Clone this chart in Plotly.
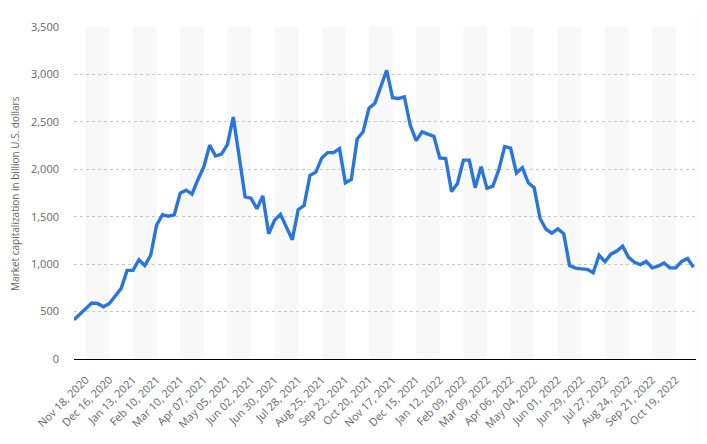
import pandas as pd
import plotly.graph_objects as go

# weekly market capitalization, billion U.S. dollars
start_date = "2020-11-04"
market_cap = [
    413, 470, 530, 591, 585, 550, 585, 660, 745, 934,
    935, 1047, 985, 1094, 1412, 1522, 1505, 1520, 1748, 1780,
    1738, 1890, 2025, 2255, 2140, 2160, 2260, 2550, 2130, 1710,
    1695, 1584, 1720, 1320, 1464, 1525, 1390, 1258, 1574, 1618,
    1936, 1970, 2120, 2176, 2176, 2217, 1858, 1892, 2320, 2395,
    2644, 2696, 2870, 3044, 2754, 2747, 2764, 2463, 2302, 2395,
    2371, 2347, 2120, 2114, 1765, 1850, 2097, 2097, 1806, 2028,
    1799, 1823, 1994, 2240, 2223, 1960, 2018, 1858, 1806, 1481,
    1368, 1327, 1371, 1320, 985, 958, 950, 945, 909, 1094,
    1026, 1105, 1139, 1190, 1071, 1019, 996, 1029, 961, 978,
    1012, 961, 961, 1029, 1060, 968,
]
weeks = pd.date_range(start_date, periods=len(market_cap), freq="7D")

# labelled every fourth week, starting Nov 18, 2020
tick_dates = pd.date_range("2020-11-18", "2022-10-19", freq="28D")
tick_labels = [d.strftime("%b %d, %Y") for d in tick_dates]

y_ticks = [0, 500, 1000, 1500, 2000, 2500, 3000, 3500]

fig = go.Figure()
fig.add_trace(go.Scatter(
    x=weeks, y=market_cap, mode="lines",
    line=dict(color="#2876dd", width=3.4),
    hoverinfo="x+y",
))

# alternating light bands between label positions
shapes = []
for k in range(0, len(tick_dates) - 1, 2):
    shapes.append(dict(
        type="rect", xref="x", yref="paper",
        x0=tick_dates[k], x1=tick_dates[k + 1], y0=0, y1=1,
        fillcolor="#f8f8f8", line=dict(width=0), layer="below",
    ))
# faint shade on the right edge of the page
for j in range(9):
    shapes.append(dict(
        type="rect", xref="paper", yref="paper",
        x0=1.0 - 0.006 + j * 0.0028, x1=1.0 - 0.006 + (j + 1) * 0.0028 + 0.0005,
        y0=-0.3, y1=1.04,
        fillcolor="#888888", opacity=0.006 + j * 0.005, line=dict(width=0), layer="above",
    ))

# the page body adds an 8px offset, so the figure is 8px smaller
fig.update_layout(
    width=699, height=436,
    margin=dict(l=66, r=11, t=11, b=85),
    paper_bgcolor="white", plot_bgcolor="white",
    showlegend=False,
    font=dict(family="Open Sans, DejaVu Sans, sans-serif", color="#666666", size=11),
    shapes=shapes,
    annotations=[dict(
        text="Market capitalization in billion U.S. dollars",
        xref="paper", yref="paper", x=-0.095, y=0.5,
        xanchor="center", yanchor="middle", textangle=-90,
        showarrow=False, font=dict(size=10, color="#666666"),
    )],
)
fig.update_xaxes(
    range=[weeks[0], weeks[-1] + pd.Timedelta(days=3)],
    tickmode="array", tickvals=tick_dates, ticktext=tick_labels,
    tickangle=-45, tickfont=dict(size=11, color="#666666"),
    showgrid=False, zeroline=False,
    showline=True, linecolor="#000000", linewidth=1.2,
    ticks="", ticklabelstandoff=9,
)
fig.update_yaxes(
    range=[0, 3500], tickvals=y_ticks, tickformat=",d",
    tickfont=dict(size=11, color="#666666"),
    showgrid=True, gridcolor="#c8c8c8", griddash="dot", gridwidth=1,
    zeroline=False, showline=False, ticks="", ticklabelstandoff=14,
)

fig.write_html("out.html")
